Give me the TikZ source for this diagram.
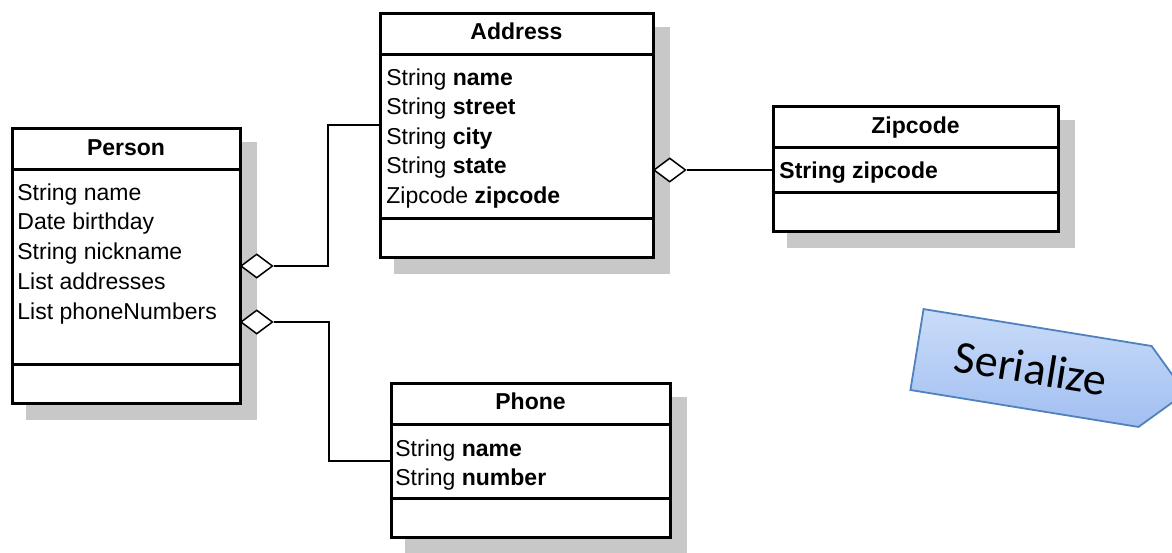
\documentclass[tikz,border=0pt]{standalone}
\usepackage{fontspec}
\setmainfont{Liberation Sans}
\newfontfamily\calibri{Carlito}
\usetikzlibrary{shapes.geometric,shapes.symbols}
\pgfdeclarelayer{bg}
\pgfsetlayers{bg,main}
\definecolor{shadowgray}{HTML}{C8C8C8}
\definecolor{arrowtop}{HTML}{C9DBF8}
\definecolor{arrowbottom}{HTML}{A2BFF2}
\definecolor{arrowedge}{HTML}{4F81BD}

\begin{document}
\begin{tikzpicture}[
    x=0.5pt, y=-0.5pt,
    font=\fontsize{11.5}{14}\selectfont,
    classbox/.style={draw=black, line width=1.5pt, fill=white, inner sep=0pt},
    sep/.style={line width=1.5pt},
    title/.style={font=\fontsize{11.5}{14}\selectfont\bfseries, anchor=base, inner sep=0pt},
    attr/.style={anchor=base west, inner sep=0pt},
    agg/.style={diamond, draw=black, fill=white, line width=0.75pt, inner sep=0pt, minimum width=16pt, minimum height=12pt, anchor=west},
    link/.style={line width=0.75pt},
    serialize/.style={signal, signal to=east, signal pointer angle=90, draw=arrowedge, line width=0.9pt, top color=arrowtop, bottom color=arrowbottom, minimum width=136pt, minimum height=41pt, inner sep=0pt, rotate=-9.2, font=\calibri\fontsize{23}{27}\selectfont}
]
\useasboundingbox (0,0) rectangle (1172,552);
\clip (0,0) rectangle (1172,552);

% class boxes
\node[classbox, minimum width=114pt, minimum height=137.5pt] (person) at (126,265.5) {};
\node[classbox, minimum width=136.5pt, minimum height=122pt] (address) at (516.5,135) {};
\node[classbox, minimum width=142.5pt, minimum height=62.5pt] (zipcode) at (915.5,168.5) {};
\node[classbox, minimum width=139.5pt, minimum height=77pt] (phone) at (530.5,460) {};

\begin{pgfonlayer}{bg}
\foreach \cls in {person,address,zipcode,phone}
    \fill[shadowgray] ([shift={(15,15)}]\cls.north west) rectangle ([shift={(15,15)}]\cls.south east);
\end{pgfonlayer}

% compartments
\foreach \cls in {person,address,zipcode,phone} {
    \draw[sep] ([yshift=-21.5pt]\cls.north west) -- ([yshift=-21.5pt]\cls.north east);
    \draw[sep] ([yshift=20pt]\cls.south west) -- ([yshift=20pt]\cls.south east);
}

% titles
\node[title] (personTitle) at (126,155) {Person};
\node[title] (addressTitle) at (516.5,39) {Address};
\node[title] (zipcodeTitle) at (915.5,133) {Zipcode};
\node[title] (phoneTitle) at (530.5,409) {Phone};

% attributes
\foreach \t [count=\i] in {String name, Date birthday, String nickname, List addresses, List phoneNumbers}
    \node[attr] (person-\i) at (17,{200+29.75*(\i-1)}) {\t};
\foreach \t [count=\i] in {String \textbf{name}, String \textbf{street}, String \textbf{city}, String \textbf{state}, Zipcode \textbf{zipcode}}
    \node[attr] (address-\i) at (386,{85+29.5*(\i-1)}) {\t};
\node[attr] (zipcode-1) at (779,178) {\textbf{String zipcode}};
\foreach \t [count=\i] in {String \textbf{name}, String \textbf{number}}
    \node[attr] (phone-\i) at (395,{456+29*(\i-1)}) {\t};

% aggregations
\node[agg] (aggAddr) at (240,266) {};
\node[agg] (aggPhone) at (240,322) {};
\node[agg] (aggZip) at (653,170) {};
\coordinate (bendAddr) at (328,125);
\coordinate (bendPhone) at (329,461);
\draw[link] (aggAddr.east) -| (bendAddr) -- (bendAddr -| address.west);
\draw[link] (aggPhone.east) -| (bendPhone) -- (bendPhone -| phone.west);
\draw[link] (aggZip.east) -- (aggZip.east -| zipcode.west);

\node[serialize] (serial) at (1031,368) {Serialize};
\end{tikzpicture}
\end{document}
